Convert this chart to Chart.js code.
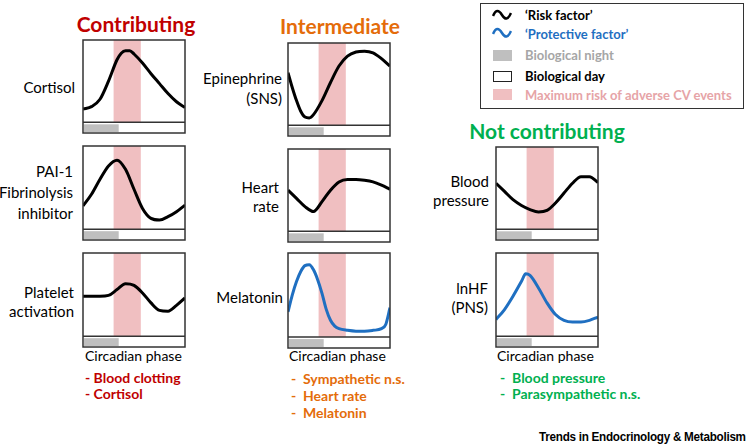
<!DOCTYPE html>
<html>
<head>
<meta charset="utf-8">
<script src="https://cdn.jsdelivr.net/npm/chart.js@4.4.1/dist/chart.umd.min.js"></script>
<style>
  body { margin: 0; background: #fff; }
  #page { position: relative; width: 749px; height: 444px; overflow: hidden; font-family: Lato, "Open Sans", sans-serif; color: #000; }
  .t { position: absolute; white-space: nowrap; line-height: 1; transform: translateY(-50%); }
  .r { text-align: right; }
  .c { text-align: center; }
  .lab { font-size: 15px; }
  .title { font-size: 21px; font-weight: bold; width: 200px; }
  .ph { font-size: 14px; }
  .bul { font-size: 14px; font-weight: bold; }
  .leg { font-size: 13px; font-weight: bold; }
  canvas { position: absolute; }
  #legend { position: absolute; left: 480px; top: 3px; width: 264px; height: 106px; border: 1.5px solid #333; box-sizing: border-box; }
  .sw { position: absolute; width: 19px; height: 11px; box-sizing: border-box; }
</style>
</head>
<body>
<div id="page">
  <!-- titles -->
  <div class="t c title" style="left:36px;top:23px;color:#c00000">Contributing</div>
  <div class="t c title" style="left:240px;top:25px;color:#e46c0a">Intermediate</div>
  <div class="t c title" style="left:447px;top:130px;color:#00b050">Not contributing</div>

  <!-- row labels -->
  <div class="t r lab" style="right:674px;top:87px">Cortisol</div>
  <div class="t r lab" style="right:676px;top:171px">PAI-1</div>
  <div class="t r lab" style="right:676px;top:192px">Fibrinolysis</div>
  <div class="t r lab" style="right:676px;top:213px">inhibitor</div>
  <div class="t r lab" style="right:675px;top:292px">Platelet</div>
  <div class="t r lab" style="right:675px;top:311px">activation</div>

  <div class="t r lab" style="right:467px;top:78px">Epinephrine</div>
  <div class="t r lab" style="right:467px;top:98px">(SNS)</div>
  <div class="t r lab" style="right:470px;top:187px">Heart</div>
  <div class="t r lab" style="right:470px;top:206px">rate</div>
  <div class="t r lab" style="right:466px;top:297px">Melatonin</div>

  <div class="t r lab" style="right:260px;top:181px">Blood</div>
  <div class="t r lab" style="right:260px;top:200px">pressure</div>
  <div class="t r lab" style="right:261px;top:288px">lnHF</div>
  <div class="t r lab" style="right:261px;top:307px">(PNS)</div>

  <!-- x axis captions -->
  <div class="t ph" style="left:85px;top:356px">Circadian phase</div>
  <div class="t ph" style="left:289px;top:356px">Circadian phase</div>
  <div class="t ph" style="left:497px;top:356px">Circadian phase</div>

  <!-- summary lists -->
  <div class="t bul" style="left:85px;top:378px;color:#c00000">- Blood clotting</div>
  <div class="t bul" style="left:85px;top:394px;color:#c00000">- Cortisol</div>
  <div class="t bul" style="left:291px;top:379px;color:#e46c0a">-&nbsp; Sympathetic n.s.</div>
  <div class="t bul" style="left:291px;top:396px;color:#e46c0a">-&nbsp; Heart rate</div>
  <div class="t bul" style="left:291px;top:413px;color:#e46c0a">-&nbsp; Melatonin</div>
  <div class="t bul" style="left:500px;top:378px;color:#00b050">-&nbsp; Blood pressure</div>
  <div class="t bul" style="left:500px;top:394px;color:#00b050">-&nbsp; Parasympathetic n.s.</div>

  <div class="t" style="left:539px;top:436px;font-family:'Liberation Sans',sans-serif;font-weight:bold;font-size:13px;letter-spacing:-0.3px;transform:translateY(-50%) scaleX(0.9);transform-origin:left center">Trends in Endocrinology &amp; Metabolism</div>

  <!-- legend -->
  <div id="legend"></div>
  <svg style="position:absolute;left:492px;top:9px" width="20" height="12"><path d="M1 7 C4 0, 7 1, 10 6 S16 11, 19 4" fill="none" stroke="#000" stroke-width="2.5"/></svg>
  <svg style="position:absolute;left:492px;top:27px" width="20" height="12"><path d="M1 7 C4 0, 7 1, 10 6 S16 11, 19 4" fill="none" stroke="#1f6fc1" stroke-width="2.5"/></svg>
  <div class="sw" style="left:493px;top:50px;background:#bfbfbf"></div>
  <div class="sw" style="left:493px;top:71px;border:1.5px solid #222;background:#fff"></div>
  <div class="sw" style="left:493px;top:89px;background:#f0bfc1"></div>
  <div class="t leg" style="left:525px;top:15px">‘Risk factor’</div>
  <div class="t leg" style="left:525px;top:34px;color:#1f6fc1">‘Protective factor’</div>
  <div class="t leg" style="left:525px;top:55px;color:#a6a6a6">Biological night</div>
  <div class="t leg" style="left:525px;top:76px">Biological day</div>
  <div class="t leg" style="left:525px;top:95px;color:#e6a4a7">Maximum risk of adverse CV events</div>

  <canvas id="cCortisol"></canvas>
  <canvas id="cPai"></canvas>
  <canvas id="cPlatelet"></canvas>
  <canvas id="cEpi"></canvas>
  <canvas id="cHeart"></canvas>
  <canvas id="cMelatonin"></canvas>
  <canvas id="cPressure"></canvas>
  <canvas id="cLnhf"></canvas>
</div>

<script>
// Circadian phase in hours (0 = start of biological night)
const nightEnd = 8.4;
const riskStart = 7.2;
const riskEnd = 13.6;

// Contributing
const cortisolHours = [0, 2, 4, 6, 8, 9, 10, 11, 12, 14, 16, 18, 20, 22, 24];
const cortisolLevel = [0.16, 0.19, 0.28, 0.5, 0.76, 0.84, 0.87, 0.87, 0.83, 0.72, 0.59, 0.47, 0.35, 0.25, 0.18];
const paiHours = [0, 2, 4, 6, 8, 10, 12, 14, 16, 18, 20, 22, 24];
const paiLevel = [0.28, 0.42, 0.6, 0.76, 0.83, 0.72, 0.48, 0.25, 0.13, 0.11, 0.15, 0.21, 0.29];
const plateletHours = [0, 2, 4, 6, 8, 10, 12, 14, 16, 18, 20, 22, 24];
const plateletLevel = [0.48, 0.48, 0.48, 0.49, 0.56, 0.63, 0.61, 0.52, 0.4, 0.31, 0.3, 0.37, 0.46];

// Intermediate
const epiHours = [0, 1, 2, 3, 4, 5, 6, 8, 10, 12, 14, 16, 18, 20, 22, 24];
const epiLevel = [0.64, 0.46, 0.3, 0.17, 0.1, 0.09, 0.13, 0.3, 0.52, 0.72, 0.84, 0.89, 0.9, 0.88, 0.81, 0.72];
const heartHours = [0, 2, 4, 6, 8, 10, 12, 14, 16, 18, 20, 22, 24];
const heartLevel = [0.5, 0.4, 0.3, 0.24, 0.36, 0.5, 0.6, 0.63, 0.63, 0.62, 0.6, 0.56, 0.51];
const melatoninHours = [0, 1, 2, 3, 4, 5, 6, 7, 8, 9, 10, 11, 12, 14, 16, 18, 20, 22, 23, 24];
const melatoninLevel = [0.3, 0.5, 0.66, 0.78, 0.85, 0.86, 0.8, 0.68, 0.52, 0.33, 0.2, 0.13, 0.1, 0.08, 0.07, 0.07, 0.08, 0.1, 0.15, 0.35];

// Not contributing
const pressureHours = [0, 2, 4, 6, 8, 10, 12, 14, 16, 18, 20, 22, 24];
const pressureLevel = [0.56, 0.46, 0.36, 0.29, 0.24, 0.21, 0.23, 0.32, 0.44, 0.56, 0.64, 0.64, 0.57];
const lnhfHours = [0, 2, 4, 6, 7, 8, 10, 12, 14, 16, 18, 20, 22, 24];
const lnhfLevel = [0.2, 0.32, 0.48, 0.66, 0.75, 0.73, 0.58, 0.4, 0.26, 0.19, 0.17, 0.17, 0.19, 0.23];

const RISK = '#000000';
const PROTECT = '#1f6fc1';

// pink band, night bar, frame
const panelPlugin = {
  id: 'panel',
  beforeDatasetsDraw(chart) {
    const { ctx, chartArea: a, scales: { x, y } } = chart;
    const y0 = y.getPixelForValue(0);
    ctx.save();
    ctx.fillStyle = '#f0bfc1';
    const rx = x.getPixelForValue(riskStart);
    ctx.fillRect(rx, a.top, x.getPixelForValue(riskEnd) - rx, y0 - a.top);
    ctx.fillStyle = '#bfbfbf';
    ctx.fillRect(a.left + 1, y0 + 2, x.getPixelForValue(nightEnd) - a.left - 1, a.bottom - y0 - 3);
    ctx.restore();
  },
  afterDatasetsDraw(chart) {
    const { ctx, chartArea: a, scales: { y } } = chart;
    const y0 = y.getPixelForValue(0);
    ctx.save();
    ctx.strokeStyle = '#333';
    ctx.lineWidth = 1.5;
    ctx.strokeRect(a.left, a.top, a.right - a.left, a.bottom - a.top);
    ctx.beginPath();
    ctx.moveTo(a.left, y0);
    ctx.lineTo(a.right, y0);
    ctx.stroke();
    ctx.restore();
  }
};

function makePanel(id, box, hours, level, color) {
  const el = document.getElementById(id);
  el.style.left = (box[0] - 3) + 'px';
  el.style.top = (box[1] - 3) + 'px';
  el.width = box[2] + 6;
  el.height = box[3] + 6;
  new Chart(el, {
    type: 'line',
    data: {
      datasets: [{
        data: hours.map((h, i) => ({ x: h, y: level[i] })),
        borderColor: color,
        borderWidth: 3,
        pointRadius: 0,
        cubicInterpolationMode: 'monotone',
        fill: false
      }]
    },
    options: {
      responsive: false,
      animation: false,
      events: [],
      layout: { padding: 3 },
      plugins: { legend: { display: false }, tooltip: { enabled: false } },
      scales: {
        x: { type: 'linear', min: 0, max: 24, display: false },
        y: { min: -0.13, max: 1, display: false }
      }
    },
    plugins: [panelPlugin]
  });
}

makePanel('cCortisol', [83, 40, 102, 93], cortisolHours, cortisolLevel, RISK);
makePanel('cPai', [83, 146, 102, 94], paiHours, paiLevel, RISK);
makePanel('cPlatelet', [83, 253, 102, 94], plateletHours, plateletLevel, RISK);
makePanel('cEpi', [288, 43, 102, 93], epiHours, epiLevel, RISK);
makePanel('cHeart', [288, 149, 102, 93], heartHours, heartLevel, RISK);
makePanel('cMelatonin', [288, 253, 102, 95], melatoninHours, melatoninLevel, PROTECT);
makePanel('cPressure', [496, 147, 102, 93], pressureHours, pressureLevel, RISK);
makePanel('cLnhf', [496, 253, 102, 94], lnhfHours, lnhfLevel, PROTECT);
</script>
</body>
</html>
